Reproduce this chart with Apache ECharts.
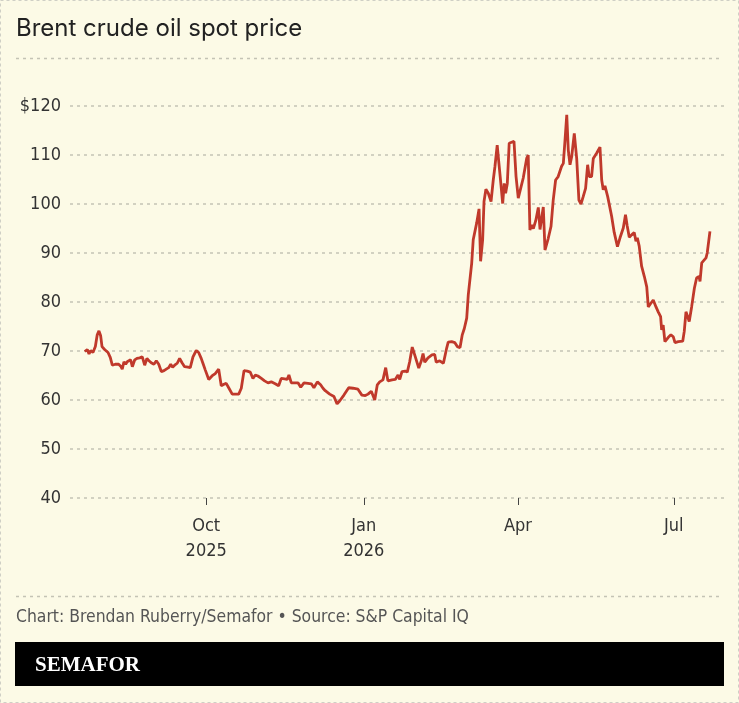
<!DOCTYPE html>
<html>
<head>
<meta charset="utf-8">
<script src="https://cdn.jsdelivr.net/npm/echarts@6/dist/echarts.min.js"></script>
<style>
  html, body { margin: 0; padding: 0; background: #fcfae6; }
  #chart { width: 739px; height: 703px; }
</style>
</head>
<body>
<div id="chart"></div>
<script>
// Brent spot price. Days counted from 1 Jan 2026.
const daysFromJan1 = [
  -162.9, -161.4, -160.4, -159.4, -158.1, -156.7, -155.6, -154.6, -153.6, -152.8,
  -151.3, -149.3, -148.0, -146.8, -145.1, -143.1, -141.9, -141.0, -140.0, -139.0,
  -138.1, -137.1, -136.1, -135.1, -133.7, -132.4, -130.8, -129.3, -127.9, -126.6,
  -125.4, -124.1, -122.5, -121.1, -119.7, -118.2, -116.6, -115.3, -113.9, -112.7,
  -111.6, -110.4, -108.9, -107.5, -106.1, -104.6, -102.6, -101.3, -99.7, -97.8,
  -96.4, -94.9, -93.9, -92.5, -90.5, -88.6, -86.7, -84.7, -83.2, -81.6,
  -80.3, -78.7, -76.8, -74.8, -73.0, -71.5, -69.9, -68.0, -66.3, -64.7,
  -63.3, -61.8, -59.8, -57.9, -55.9, -54.0, -51.7, -49.7, -48.2, -46.2,
  -44.7, -43.7, -42.3, -40.3, -38.4, -36.8, -34.9, -32.6, -30.6, -29.1,
  -27.1, -25.2, -23.8, -22.5, -19.9, -17.4, -15.6, -14.1, -11.6, -8.8,
  -6.3, -3.4, -1.1, 0.9, 2.5, 4.4, 6.4, 7.9, 9.3, 11.2,
  12.8, 14.1, 16.5, 18.4, 20.0, 21.0, 22.3, 24.2, 25.4, 26.8,
  28.3, 30.1, 32.1, 33.6, 34.6, 35.6, 37.5, 39.8, 41.4, 42.3,
  44.3, 46.5, 48.4, 49.3, 51.3, 53.2, 54.6, 56.2, 57.5, 58.7,
  60.1, 61.0, 62.0, 63.0, 63.9, 65.9, 67.3, 68.2, 69.4, 70.2,
  71.3, 72.7, 74.3, 75.6, 76.6, 77.9, 78.9, 80.1, 81.1, 82.0,
  82.8, 83.8, 84.9, 86.3, 87.7, 88.9, 90.2, 91.6, 93.1, 95.1,
  96.0, 97.0, 98.0, 99.0, 100.4, 101.9, 102.9, 103.9, 104.8, 105.8,
  107.7, 109.3, 110.6, 112.0, 113.5, 115.5, 116.5, 117.5, 118.5, 119.4,
  120.4, 121.4, 122.9, 124.3, 125.6, 126.8, 128.1, 129.5, 130.7, 131.6,
  133.0, 134.0, 136.0, 137.9, 138.9, 139.8, 140.8, 142.4, 144.7, 146.2,
  147.1, 148.1, 149.6, 151.5, 152.8, 153.8, 155.0, 156.4, 157.9, 158.9,
  159.7, 160.8, 162.2, 163.8, 165.2, 166.1, 167.5, 169.0, 170.6, 171.9,
  173.3, 173.9, 174.8, 175.8, 177.8, 179.3, 180.7, 181.7, 183.6, 186.2,
  187.1, 188.1, 189.1, 190.0, 191.4, 193.0, 194.3, 195.7, 196.3, 197.3,
  199.8, 200.5, 202.1
];
const prices = [
  69.9, 70.3, 69.4, 70.1, 69.7, 70.9, 73.3, 74.1, 73.1, 70.9,
  70.3, 69.7, 68.7, 67.1, 67.3, 67.3, 66.9, 66.3, 67.8, 67.3,
  67.8, 67.5, 68.2, 66.8, 68.2, 68.5, 68.6, 68.8, 67.1, 68.5,
  68.0, 67.6, 67.3, 68.0, 67.3, 65.8, 66.0, 66.3, 66.6, 67.3,
  66.7, 67.1, 67.5, 68.5, 67.6, 66.8, 66.7, 66.6, 68.8, 70.1,
  69.7, 68.5, 67.5, 66.1, 64.2, 64.9, 65.4, 66.3, 62.9, 63.2,
  63.4, 62.4, 61.2, 61.2, 61.2, 62.4, 66.0, 65.9, 65.7, 64.4,
  65.1, 64.9, 64.4, 63.9, 63.5, 63.7, 63.3, 62.9, 64.4, 64.3,
  64.2, 65.1, 63.5, 63.5, 63.5, 62.6, 63.5, 63.4, 63.3, 62.5,
  63.7, 63.1, 62.4, 61.9, 61.2, 60.7, 59.2, 59.8, 61.0, 62.5,
  62.4, 62.2, 61.0, 60.9, 61.2, 61.8, 60.0, 63.1, 63.7, 64.1,
  66.6, 63.9, 64.1, 64.2, 65.1, 64.2, 65.8, 65.9, 65.7, 67.8,
  70.8, 68.8, 66.5, 68.0, 69.5, 67.7, 68.6, 69.2, 69.3, 67.7,
  68.0, 67.5, 70.6, 71.8, 71.9, 71.7, 70.9, 70.7, 73.3, 74.6,
  76.7, 81.4, 81.6, 87.9, 92.7, 96.1, 99.0, 88.3, 92.7, 100.5,
  103.0, 102.2, 100.5, 104.9, 107.7, 112.0, 108.3, 103.9, 100.1, 104.2,
  102.2, 104.2, 112.4, 112.6, 112.8, 105.6, 101.2, 103.2, 105.3, 109.3,
  110.0, 94.7, 95.7, 95.0, 96.6, 99.3, 94.8, 94.8, 99.4, 90.6,
  93.0, 95.4, 100.8, 104.9, 105.6, 107.7, 108.3, 113.1, 118.2, 111.0,
  108.0, 109.7, 114.4, 109.3, 100.8, 100.0, 101.5, 103.2, 108.0, 105.6,
  105.6, 109.3, 110.4, 111.6, 104.9, 102.9, 103.7, 101.5, 97.5, 94.2,
  94.0, 91.3, 93.1, 95.1, 97.8, 95.5, 93.2, 93.7, 94.2, 92.4,
  93.1, 91.4, 87.3, 85.2, 83.1, 79.0, 79.7, 80.4, 79.0, 78.0,
  77.0, 74.3, 75.3, 71.9, 72.8, 73.3, 72.9, 71.7, 71.9, 72.0,
  74.0, 78.0, 77.0, 76.0, 79.0, 82.8, 84.9, 85.2, 84.2, 88.0,
  89.0, 90.0, 94.4
];
const yTicks = [40, 50, 60, 70, 80, 90, 100, 110, 120];
// month starts as days from 1 Jan 2026: 1 Oct 2025, 1 Jan, 1 Apr, 1 Jul 2026
const xTickDays = [-92, 0, 90, 181];
const xTickLabels = ['Oct\n2025', 'Jan\n2026', 'Apr', 'Jul'];

const lineData = daysFromJan1.map((d, i) => [d, prices[i]]);

const labelFont = '"DejaVu Sans Condensed", "Liberation Sans Narrow", sans-serif';
const gridDash = { color: '#c4c3b5', width: 1.5, type: [3, 4] };

let mychart = echarts.init(document.getElementById('chart'));
mychart.setOption({
  backgroundColor: '#fcfae6',
  animation: false,
  title: {
    text: 'Brent crude oil spot price',
    left: 11,
    top: 12,
    textStyle: { fontFamily: 'Inter, "Liberation Sans", sans-serif', fontSize: 24, fontWeight: 'normal', color: '#222' }
  },
  grid: { left: 70, right: 15, top: 106, bottom: 205 },
  xAxis: {
    type: 'value',
    min: -171.5,
    max: 210.3,
    splitLine: { show: false },
    axisLine: { show: false },
    axisTick: { show: true, length: 7, customValues: xTickDays, lineStyle: { color: '#444', width: 1 } },
    axisLabel: {
      customValues: xTickDays,
      margin: 16,
      lineHeight: 25,
      fontFamily: labelFont,
      fontSize: 18,
      color: '#333',
      formatter: v => xTickLabels[xTickDays.indexOf(v)] || ''
    }
  },
  yAxis: {
    type: 'value',
    min: yTicks[0],
    max: yTicks[yTicks.length - 1],
    interval: 10,
    axisLine: { show: false },
    axisTick: { show: false },
    axisLabel: {
      margin: 9,
      fontFamily: labelFont,
      fontSize: 18,
      color: '#333',
      formatter: v => (v === 120 ? '$' + v : '' + v)
    },
    splitLine: { lineStyle: gridDash }
  },
  series: [{
    type: 'line',
    data: lineData,
    showSymbol: false,
    lineStyle: { color: '#c0392b', width: 2.8 },
    z: 5
  }],
  graphic: [
    { type: 'rect', shape: { x: 0.5, y: 0.5, width: 738, height: 702 }, style: { fill: null, stroke: '#cfcfc5', lineWidth: 1, lineDash: [3, 3] } },
    { type: 'line', shape: { x1: 16, y1: 58.5, x2: 723, y2: 58.5 }, style: { stroke: '#c4c3b5', lineWidth: 1.5, lineDash: [3, 4] } },
    { type: 'line', shape: { x1: 16, y1: 596.5, x2: 723, y2: 596.5 }, style: { stroke: '#c4c3b5', lineWidth: 1.5, lineDash: [3, 4] } },
    { type: 'text', left: 16, top: 609, style: { text: 'Chart: Brendan Ruberry/Semafor • Source: S&P Capital IQ', font: '17.4px ' + labelFont, fill: '#555' } },
    { type: 'rect', shape: { x: 15, y: 642, width: 709, height: 44 }, style: { fill: '#000' } },
    { type: 'text', left: 35, top: 655, style: { text: 'SEMAFOR', font: 'bold 21px "Liberation Serif", serif', fill: '#fff' } }
  ]
});
</script>
</body>
</html>
